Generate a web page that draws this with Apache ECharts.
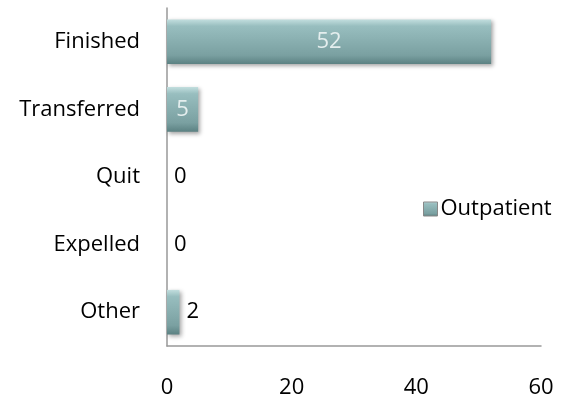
<!DOCTYPE html>
<html>
<head>
<meta charset="utf-8">
<script src="https://cdn.jsdelivr.net/npm/echarts@6/dist/echarts.min.js"></script>
<style>
  html, body { margin: 0; padding: 0; background: #fff; }
  #chart { width: 571px; height: 402px; }
</style>
</head>
<body>
<div id="chart"></div>
<script>
// 数据
const categories = ['Finished', 'Transferred', 'Quit', 'Expelled', 'Other'];
const outpatient = [52, 5, 0, 0, 2];
const xTicks = [0, 20, 40, 60];

const font = "'Open Sans', 'Liberation Sans', sans-serif";

const barFill = new echarts.graphic.LinearGradient(0, 0, 0, 1, [
  { offset: 0, color: '#c2dede' },
  { offset: 0.15, color: '#98bebf' },
  { offset: 0.8, color: '#7aa0a1' },
  { offset: 1, color: '#5b8182' }
]);

const chart = echarts.init(document.getElementById('chart'));

// 大的值标签放在柱子里面，小的放右边
const barData = outpatient.map(v => ({
  value: v,
  label: v >= 5
    ? { position: 'inside', color: '#e4eeee' }
    : { position: 'right', color: '#000', distance: 7 }
}));

chart.setOption({
  animation: false,
  grid: { left: 167, right: 30, top: 8, bottom: 56 },
  legend: {
    data: ['Outpatient'],
    orient: 'vertical',
    left: 418,
    top: 193,
    itemWidth: 14,
    itemHeight: 14,
    itemGap: 6,
    icon: 'rect',
    itemStyle: { borderColor: '#888', borderWidth: 1 },
    textStyle: { fontFamily: font, fontSize: 22, color: '#000', padding: [0, 0, 0, -2] }
  },
  xAxis: {
    type: 'value',
    min: xTicks[0],
    max: xTicks[xTicks.length - 1],
    interval: 20,
    axisLine: { show: true, lineStyle: { color: '#999', width: 1.5 } },
    axisTick: { show: false },
    splitLine: { show: false },
    axisLabel: { margin: 31, fontFamily: font, fontSize: 22, color: '#000' }
  },
  yAxis: {
    type: 'category',
    inverse: true,
    data: categories,
    axisLine: { show: true, lineStyle: { color: '#999', width: 1.5 } },
    axisTick: { show: false },
    axisLabel: { margin: 27, fontFamily: font, fontSize: 22, color: '#000' }
  },
  series: [{
    name: 'Outpatient',
    type: 'bar',
    data: barData,
    barWidth: '66%',
    itemStyle: {
      color: barFill,
      borderWidth: 0,
      shadowColor: 'rgba(0,0,0,0.35)',
      shadowBlur: 4,
      shadowOffsetX: 2,
      shadowOffsetY: 2
    },
    label: {
      show: true,
      fontFamily: font,
      fontSize: 22
    }
  }]
});
</script>
</body>
</html>
